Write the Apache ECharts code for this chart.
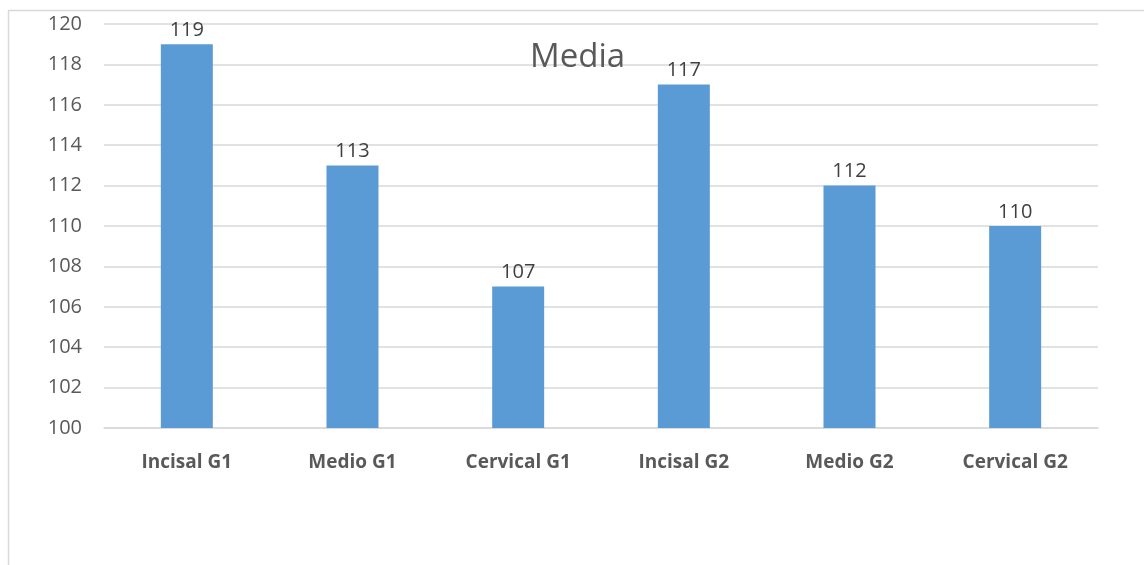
<!DOCTYPE html>
<html>
<head>
<meta charset="utf-8">
<script src="https://cdn.jsdelivr.net/npm/echarts@6/dist/echarts.min.js"></script>
<style>
  html, body { margin: 0; padding: 0; background: #fff; }
  #chart { width: 1144px; height: 565px; }
</style>
</head>
<body>
<div id="chart"></div>
<script>
// Mean values per measurement zone and group
const categories = ['Incisal G1', 'Medio G1', 'Cervical G1', 'Incisal G2', 'Medio G2', 'Cervical G2'];
const mediaValues = [119, 113, 107, 117, 112, 110];
const yMin = 100;
const yMax = 120;
const yStep = 2;

const chart = echarts.init(document.getElementById('chart'), null, { renderer: 'canvas' });

chart.setOption({
  animation: false,
  backgroundColor: '#ffffff',
  title: {
    text: 'Media',
    left: 525,
    top: 36,
    textStyle: { fontFamily: 'Open Sans', fontSize: 33, fontWeight: 'normal', color: '#595959' }
  },
  graphic: [
    {
      type: 'polyline',
      shape: { points: [[8.5, 565], [8.5, 10.5], [1144, 10.5]] },
      style: { stroke: '#d9d9d9', lineWidth: 1.5, fill: null },
      silent: true
    }
  ],
  grid: { left: 104, right: 46, top: 24, bottom: 137, containLabel: false },
  xAxis: {
    type: 'category',
    data: categories,
    axisLine: { show: true, lineStyle: { color: '#d9d9d9', width: 1.5 } },
    axisTick: { show: false },
    axisLabel: {
      margin: 25,
      fontFamily: 'Open Sans',
      fontSize: 19,
      fontWeight: 'bold',
      color: '#595959'
    }
  },
  yAxis: {
    type: 'value',
    min: yMin,
    max: yMax,
    interval: yStep,
    axisLine: { show: false },
    axisTick: { show: false },
    splitLine: { lineStyle: { color: '#d9d9d9', width: 1.5 } },
    axisLabel: {
      margin: 22,
      fontFamily: 'Open Sans',
      fontSize: 20,
      color: '#595959'
    }
  },
  series: [
    {
      type: 'bar',
      data: mediaValues,
      barWidth: 52,
      itemStyle: { color: '#5b9bd5' },
      label: {
        show: true,
        position: 'top',
        distance: 4,
        fontFamily: 'Open Sans',
        fontSize: 20,
        color: '#404040'
      }
    }
  ]
});
</script>
</body>
</html>
